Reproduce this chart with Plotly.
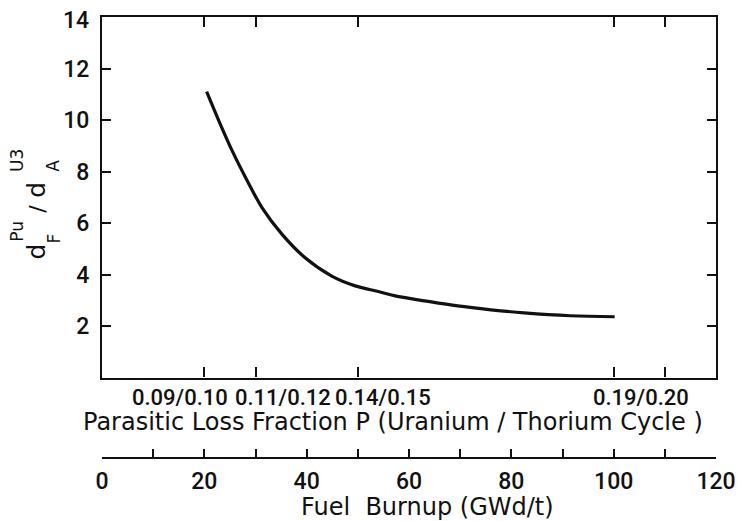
import plotly.graph_objects as go

# ---- data ----
burnup = [20.45, 22.9, 25.5, 28.1, 31.3, 35.2, 39.7, 44.9, 49.5, 54.0, 57.3, 63.0, 69.5, 76.0, 82.5, 91.5, 100.2]
ratio = [11.10, 9.94, 8.78, 7.75, 6.59, 5.56, 4.65, 3.94, 3.56, 3.34, 3.17, 2.98, 2.78, 2.63, 2.51, 2.40, 2.36]

p_tick_burnup = [20, 30, 50, 100, 110]
p_labels = ["0.09/0.10", "0.11/0.12", "0.14/0.15", "0.19/0.20"]
p_label_pos = [15.2, 35.4, 54.9, 105.3]

burnup_ticks = [0, 10, 20, 30, 40, 50, 60, 70, 80, 90, 100, 110, 120]
burnup_labels = ["0", "", "20", "", "40", "", "60", "", "80", "", "100", "", "120"]
y_ticks = [2, 4, 6, 8, 10, 12, 14]
y_labels = ["2", "4", "6", "8", "10", "12", ""]
y_top_label = "14"

# ---- geometry (page body has an 8px margin; reference pixel coords below) ----
W, H = 735, 513
ML, MR, MT, MB = 94, 23, 7, 10
PW, PH = W - ML - MR, H - MT - MB


def px(x):
    return (x - 102) / PW


def py(y):
    return (511 - y) / PH


INK = "#111111"
NUM = "Roboto"
TXT = "DejaVu Sans"

fig = go.Figure()
fig.add_trace(go.Scatter(x=burnup, y=ratio, mode="lines",
                         line=dict(color=INK, width=3.2, shape="spline", smoothing=1.0),
                         showlegend=False, hoverinfo="skip"))
# invisible trace to hold the burnup axis
fig.add_trace(go.Scatter(x=[0, 120], y=[None, None], xaxis="x2", mode="lines",
                         showlegend=False, hoverinfo="skip"))

numfont = dict(size=23, family=NUM, color=INK, weight=500)

fig.update_layout(
    width=W, height=H,
    margin=dict(l=ML, r=MR, t=MT, b=MB),
    paper_bgcolor="white", plot_bgcolor="white",
    font=dict(family=NUM, color=INK),
    xaxis=dict(range=[0, 120], domain=[0, 1], anchor="y",
               tickmode="array", tickvals=p_tick_burnup, showticklabels=False,
               ticks="inside", ticklen=10, tickwidth=2, tickcolor=INK,
               showline=True, linewidth=2.2, linecolor=INK, mirror="ticks",
               showgrid=False, zeroline=False),
    yaxis=dict(range=[0, 14], domain=[py(377), 1],
               tickmode="array", tickvals=y_ticks, ticktext=y_labels,
               ticks="inside", ticklen=9, tickwidth=2, tickcolor=INK,
               ticklabelstandoff=6, tickfont=numfont,
               showline=True, linewidth=2.2, linecolor=INK, mirror="ticks",
               showgrid=False, zeroline=False),
    xaxis2=dict(range=[0, 120], domain=[0, 1], anchor="free", position=py(458),
                overlaying="x", side="bottom",
                tickmode="array", tickvals=burnup_ticks, ticktext=burnup_labels,
                ticks="inside", ticklen=8, tickwidth=2, tickcolor=INK,
                tickfont=numfont, ticklabelstandoff=2,
                showline=True, linewidth=2.2, linecolor=INK,
                showgrid=False, zeroline=False),
)

ann = []
# top y label placed slightly below its tick (as in the original)
ann.append(dict(x=px(91), y=py(19), xref="paper", yref="paper", text=y_top_label,
                showarrow=False, font=numfont, xanchor="right", yanchor="middle"))
for t, xp in zip(p_labels, p_label_pos):
    ann.append(dict(x=xp, y=py(397), xref="x", yref="paper", text=t, showarrow=False,
                    font=dict(size=22, family=NUM, color=INK, weight=500),
                    xanchor="center", yanchor="middle"))
ann.append(dict(x=px(395), y=py(422), xref="paper", yref="paper",
                text="Parasitic Loss Fraction P (Uranium / Thorium Cycle )", showarrow=False,
                font=dict(size=24, family=TXT, color=INK), xanchor="center", yanchor="middle"))
ann.append(dict(x=px(430), y=py(507), xref="paper", yref="paper",
                text="Fuel  Burnup (GWd/t)", showarrow=False,
                font=dict(size=24, family=TXT, color=INK), xanchor="center", yanchor="middle"))

# y-axis title pieces: d_F^Pu / d_A^U3 (rotated)
pieces = [
    ("d", 36, 250, 25),
    ("F", 54, 237, 17),
    ("Pu", 17, 230, 17),
    ("/", 37, 207, 22),
    ("d", 36, 188, 25),
    ("A", 53, 164, 17),
    ("U3", 17, 159, 17),
]
for t, x0, y0, s in pieces:
    ann.append(dict(x=px(x0), y=py(y0), xref="paper", yref="paper", text=t, showarrow=False,
                    textangle=-90, font=dict(size=s, family=TXT, color=INK),
                    xanchor="center", yanchor="middle"))

fig.update_layout(annotations=ann)
fig.write_html("out.html")
